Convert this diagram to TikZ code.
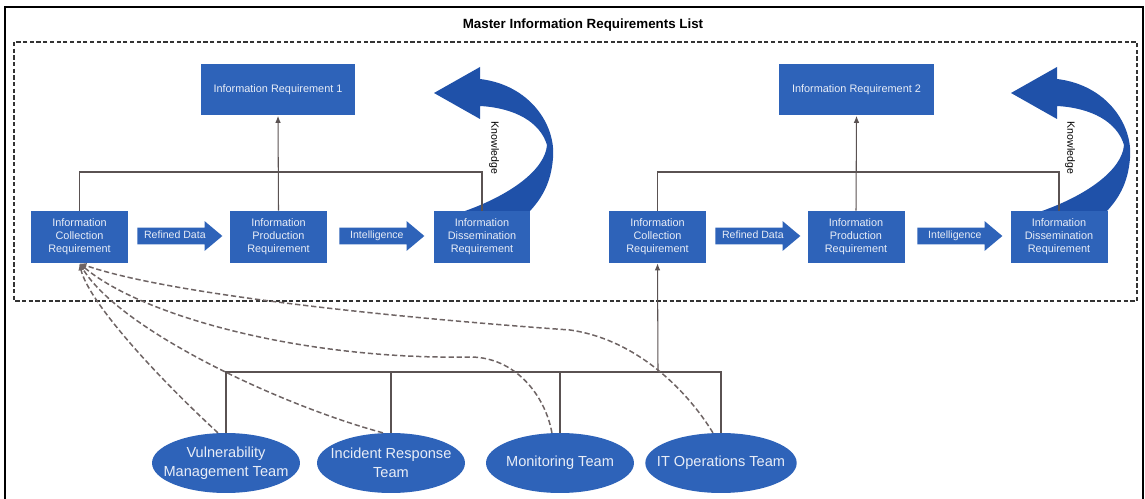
\documentclass[tikz,border=0pt]{standalone}
\usepackage{fontspec}
\setmainfont{Liberation Sans}
\usepackage{tikz}
\usetikzlibrary{shapes.geometric,shapes.arrows,arrows.meta}
\definecolor{reqblue}{HTML}{2E63B9}
\definecolor{knowblue}{HTML}{1F51A9}
\definecolor{reqtext}{HTML}{E8EDF7}
\definecolor{linkgrey}{HTML}{5A5252}
\definecolor{dashgrey}{HTML}{6E6464}

\begin{document}
\begin{tikzpicture}[x=0.02cm,y=-0.02cm,
  req/.style={fill=reqblue,text=reqtext,align=center,inner sep=0pt,
    minimum width=1.94cm,minimum height=1.04cm,font=\fontsize{6.2}{7.4}\selectfont},
  goal/.style={req,minimum width=3.1cm,minimum height=1.02cm},
  flow/.style={single arrow,fill=reqblue,text=reqtext,anchor=tail,
    single arrow head extend=0.13cm,single arrow tip angle=80,minimum height=1.7cm,
    inner xsep=2pt,inner ysep=0.05cm,text height=0.16cm,text depth=0.06cm,
    font=\fontsize{6}{7}\selectfont},
  team/.style={ellipse,fill=reqblue,text=reqtext,align=center,inner xsep=-0.21cm,inner ysep=0pt,
    minimum width=2.96cm,minimum height=1.2cm,font=\fontsize{8.3}{10.6}\selectfont},
  link/.style={draw=linkgrey,line width=0.6pt},
  feed/.style={draw=dashgrey,line width=0.85pt,dash pattern=on 3pt off 1.6pt},
  tip/.style={-{Latex[length=4pt,width=3.2pt]}},
  know/.style={fill=knowblue},
  knowlabel/.style={rotate=-90,font=\fontsize{6}{7}\selectfont}]
  \useasboundingbox (0,0) rectangle (1145,499);

  % frame and list box
  \draw[line width=1.4pt] (5,499) -- (5,7) -- (1143,7) -- (1143,499);
  \node[font=\fontsize{7.6}{9}\bfseries] (title) at (583,25) {Master Information Requirements List};
  \draw[draw=black!80,line width=0.9pt,dash pattern=on 2.4pt off 1.4pt] (14,42) rectangle (1137,301);

  % first requirement
  \node[req] (icr1) at (79.5,237) {Information\\Collection\\Requirement};
  \node[req] (ipr1) at (278.5,237) {Information\\Production\\Requirement};
  \node[req] (idr1) at (482,237) {Information\\Dissemination\\Requirement};
  \node[goal] (ir1) at (278,90) {Information Requirement 1};
  \node[flow] (rd1) at (137,236) {Refined Data};
  \node[flow] (in1) at (339,236) {Intelligence};

  \fill[know,shift={(idr1.center)}] (-17,-26) .. controls (28,-42) and (63,-67) .. (65,-92)
    .. controls (58,-115) and (33,-129) .. (-2,-131) -- (-2,-118) -- (-48,-144) -- (-2,-170)
    -- (-2,-158) .. controls (48,-152) and (74,-112) .. (71,-79)
    .. controls (69,-52) and (58,-37) .. (48,-26) -- cycle;
  \node[knowlabel] (kn1) at ([shift={(12,-89)}]idr1.center) {Knowledge};

  \coordinate (bar1) at (278,172);
  \draw[link] (icr1.north) |- (bar1) -| (idr1.north);
  \draw[link,tip] (ipr1.north) -- (ir1.south);

  % second requirement
  \node[req] (icr2) at (657.5,237) {Information\\Collection\\Requirement};
  \node[req] (ipr2) at (856,237) {Information\\Production\\Requirement};
  \node[req] (idr2) at (1059,237) {Information\\Dissemination\\Requirement};
  \node[goal] (ir2) at (856.5,90) {Information Requirement 2};
  \node[flow] (rd2) at (715,236) {Refined Data};
  \node[flow] (in2) at (917,236) {Intelligence};

  \fill[know,shift={(idr2.center)}] (-17,-26) .. controls (28,-42) and (63,-67) .. (65,-92)
    .. controls (58,-115) and (33,-129) .. (-2,-131) -- (-2,-118) -- (-48,-144) -- (-2,-170)
    -- (-2,-158) .. controls (48,-152) and (74,-112) .. (71,-79)
    .. controls (69,-52) and (58,-37) .. (48,-26) -- cycle;
  \node[knowlabel] (kn2) at ([shift={(11,-89)}]idr2.center) {Knowledge};

  \coordinate (bar2) at (856,172);
  \draw[link] (icr2.north) |- (bar2) -| (idr2.north);
  \draw[link,tip] (ipr2.north) -- (ir2.south);

  % teams
  \node[team] (vmt) at (226,463) {Vulnerability\\Management Team};
  \node[team] (irt) at (391,463) {Incident Response\\Team};
  \node[team] (mot) at (560,463) {Monitoring Team};
  \node[team] (itt) at (721,463) {IT Operations Team};

  \coordinate (tbar) at (658,372);
  \draw[link] (vmt.north) |- (tbar) -| (itt.north);
  \draw[link] (irt.north) -- (irt.north |- tbar);
  \draw[link] (mot.north) -- (mot.north |- tbar);
  \draw[link,tip] (tbar) -- (icr2.south);

  \draw[feed,tip] (vmt.105) .. controls (150,370) and (88,300) .. (icr1.south);
  \draw[feed,tip] (irt.105) .. controls (280,405) and (120,330) .. (icr1.south);
  \draw[feed,tip] (mot.105) .. controls (545,395) and (515,357) .. (470,357)
    .. controls (300,360) and (140,315) .. (icr1.south);
  \draw[feed,tip] (itt.105) .. controls (690,395) and (640,340) .. (570,330)
    .. controls (400,318) and (170,295) .. (icr1.south);
\end{tikzpicture}
\end{document}
